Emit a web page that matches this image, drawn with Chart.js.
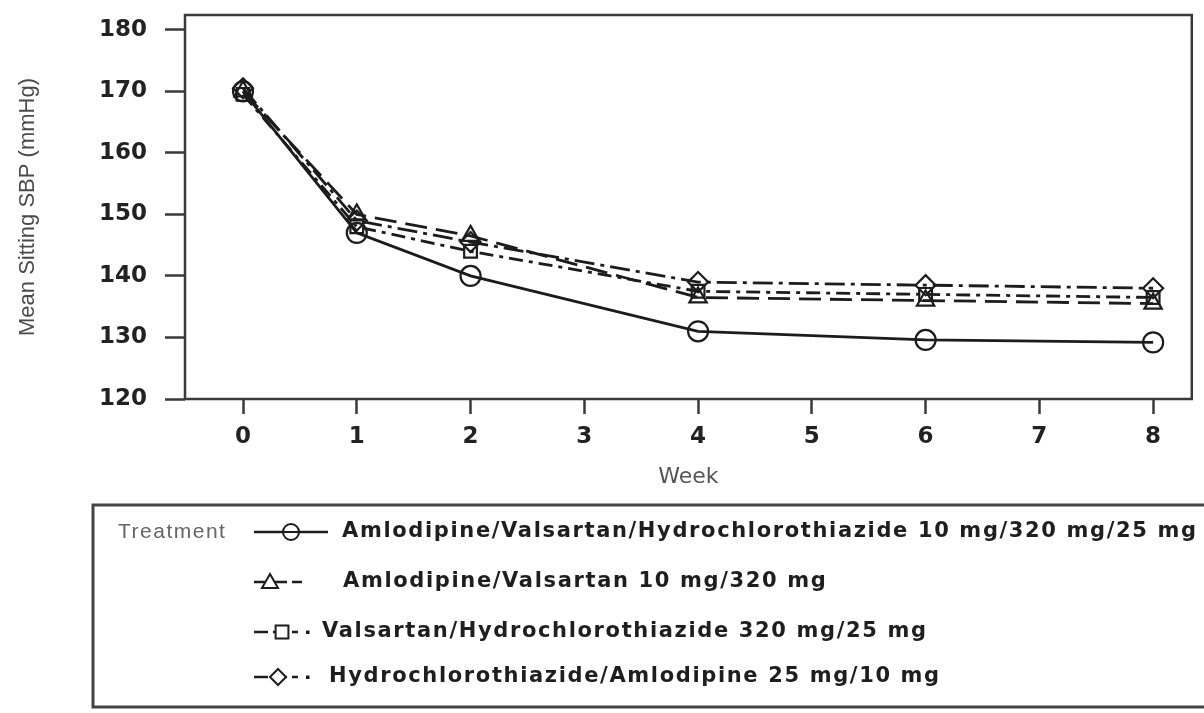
<!DOCTYPE html>
<html>
<head>
<meta charset="utf-8">
<script src="https://cdn.jsdelivr.net/npm/chart.js@4.4.0/dist/chart.umd.min.js"></script>
<style>
  html, body { margin: 0; padding: 0; background: #fff; }
  #wrap { width: 1204px; height: 713px; position: relative; }
</style>
</head>
<body>
<div id="wrap"><canvas id="chart"></canvas></div>
<script>
// ---- data ----
const weeks = [0, 1, 2, 4, 6, 8];
const xTicks = [0, 1, 2, 3, 4, 5, 6, 7, 8];
const yTicks = [120, 130, 140, 150, 160, 170, 180];

const seriesNames = [
    'Amlodipine/Valsartan/Hydrochlorothiazide 10 mg/320 mg/25 mg',
    'Amlodipine/Valsartan 10 mg/320 mg',
    'Valsartan/Hydrochlorothiazide 320 mg/25 mg',
    'Hydrochlorothiazide/Amlodipine 25 mg/10 mg'
];
const avhValues = [170, 147, 140, 131, 129.6, 129.2];
const avValues = [170, 150, 146.5, 136.5, 136, 135.5];
const vhValues = [169.5, 148, 144, 137.5, 137, 136.5];
const haValues = [170.5, 149, 145.5, 139, 138.5, 138];

const legendTitle = 'Treatment';
const xTitle = 'Week';
const yTitle = 'Mean Sitting SBP (mmHg)';

// ---- styles ----
const INK = '#1c1c1c';
const AXIS = '#3a3a3a';

function toPoints(values) {
    return weeks.map((w, i) => ({ x: w, y: values[i] }));
}

function makeDataset(label, values, pointStyle, dash, radius) {
    return {
        label: label,
        data: toPoints(values),
        borderColor: INK,
        borderWidth: 2.8,
        borderDash: dash,
        backgroundColor: 'rgba(255,255,255,0)',
        pointStyle: pointStyle,
        pointRadius: radius,
        pointBorderWidth: 2.2,
        pointBorderColor: INK,
        pointBackgroundColor: 'rgba(255,255,255,0)',
        tension: 0,
        fill: false
    };
}

// ============================================
// PLUGIN: box around plot + boxed legend
// ============================================

function drawMarker(ctx, style, x, y, r) {
    ctx.beginPath();
    if (style === 'circle') {
        ctx.arc(x, y, r, 0, Math.PI * 2);
        ctx.moveTo(x - r, y);
        ctx.lineTo(x + r, y);
    } else if (style === 'triangle') {
        ctx.moveTo(x, y - r);
        ctx.lineTo(x + r, y + r * 0.75);
        ctx.lineTo(x - r, y + r * 0.75);
        ctx.closePath();
    } else if (style === 'rect') {
        ctx.rect(x - r * 0.8, y - r * 0.8, r * 1.6, r * 1.6);
    } else if (style === 'rectRot') {
        ctx.moveTo(x, y - r);
        ctx.lineTo(x + r, y);
        ctx.lineTo(x, y + r);
        ctx.lineTo(x - r, y);
        ctx.closePath();
    }
    ctx.fillStyle = '#fff';
    ctx.fill();
    ctx.stroke();
}

const frameAndLegend = {
    id: 'frameAndLegend',
    afterDraw(chart) {
        const ctx = chart.ctx;
        const a = chart.chartArea;

        // plot frame
        ctx.save();
        ctx.strokeStyle = AXIS;
        ctx.lineWidth = 2.5;
        ctx.strokeRect(a.left, a.top, a.right - a.left, a.bottom - a.top);
        ctx.restore();

        // legend box (runs off the right edge like the original)
        ctx.save();
        ctx.strokeStyle = '#444';
        ctx.lineWidth = 3;
        ctx.strokeRect(93, 505, 1140, 202);

        ctx.fillStyle = '#666';
        ctx.font = '21px "Liberation Sans", Arial, sans-serif';
        ctx.textBaseline = 'middle';
        ctx.letterSpacing = '1.5px';
        ctx.fillText(legendTitle, 118, 532);

        const rows = [
            { y: 532, x0: 254, x1: 328, mx: 291, textX: 342, dot: false },
            { y: 582, x0: 254, x1: 302, mx: 270, textX: 343, dot: false },
            { y: 632, x0: 254, x1: 298, mx: 282, textX: 322, dot: true },
            { y: 677, x0: 254, x1: 298, mx: 278, textX: 329, dot: true }
        ];

        ctx.letterSpacing = '0px';
        ctx.font = 'bold 21px "DejaVu Sans", Verdana, sans-serif';
        const w0 = ctx.measureText(seriesNames[0]).width;
        const spacing = Math.max(0, (854 - w0) / (seriesNames[0].length - 1));

        chart.data.datasets.forEach((ds, i) => {
            const r = rows[i];
            ctx.strokeStyle = INK;
            ctx.lineWidth = 2.6;
            ctx.setLineDash(ds.borderDash.length ? [14, 5] : []);
            ctx.beginPath();
            ctx.moveTo(r.x0, r.y);
            ctx.lineTo(r.x1, r.y);
            ctx.stroke();
            ctx.setLineDash([]);
            ctx.lineWidth = 2;
            drawMarker(ctx, ds.pointStyle, r.mx, r.y, 8);
            if (r.dot) {
                ctx.fillStyle = INK;
                ctx.fillRect(r.x1 + 8, r.y - 1.5, 3.5, 3.5);
            }
            ctx.fillStyle = '#1e1e1e';
            ctx.letterSpacing = spacing.toFixed(2) + 'px';
            ctx.fillText(ds.label, r.textX, r.y);
            ctx.letterSpacing = '0px';
        });
        ctx.restore();
    }
};

// ============================================
// CHART
// ============================================

const tickFont = { family: '"DejaVu Sans", Verdana, sans-serif', size: 23, weight: 'bold' };

new Chart(document.getElementById('chart'), {
    type: 'line',
    data: {
        datasets: [
            makeDataset(seriesNames[0], avhValues, 'circle', [], 10),
            makeDataset(seriesNames[1], avValues, 'triangle', [22, 9], 10),
            makeDataset(seriesNames[2], vhValues, 'rect', [14, 6, 4, 6], 9),
            makeDataset(seriesNames[3], haValues, 'rectRot', [20, 6, 4, 6], 10)
        ]
    },
    options: {
        responsive: true,
        maintainAspectRatio: false,
        animation: false,
        layout: { padding: { top: 15, right: 0, bottom: 214, left: 0 } },
        plugins: {
            legend: { display: false },
            tooltip: { enabled: false }
        },
        scales: {
            x: {
                type: 'linear',
                min: -0.51,
                max: 8.34,
                afterBuildTicks: scale => { scale.ticks = xTicks.map(v => ({ value: v })); },
                afterFit: scale => {
                    scale.height = 100;
                    scale.paddingLeft = 0;
                    scale.paddingRight = 0;
                },
                border: { display: false },
                grid: {
                    drawOnChartArea: false,
                    drawTicks: true,
                    tickLength: 15,
                    tickWidth: 2.5,
                    tickColor: AXIS
                },
                ticks: {
                    font: tickFont,
                    color: '#222',
                    padding: 9,
                    maxRotation: 0
                },
                title: {
                    display: true,
                    text: xTitle,
                    color: '#555',
                    font: { family: '"DejaVu Sans", sans-serif', size: 22 },
                    padding: { top: 0, bottom: 9 }
                }
            },
            y: {
                type: 'linear',
                min: 120,
                max: 182.4,
                afterBuildTicks: scale => { scale.ticks = yTicks.map(v => ({ value: v })); },
                afterFit: scale => {
                    scale.width = 185;
                    scale.paddingTop = 0;
                    scale.paddingBottom = 0;
                },
                border: { display: false },
                grid: {
                    drawOnChartArea: false,
                    drawTicks: true,
                    tickLength: 20,
                    tickWidth: 2.5,
                    tickColor: AXIS
                },
                ticks: {
                    font: tickFont,
                    color: '#222',
                    padding: 18
                },
                title: {
                    display: true,
                    text: yTitle,
                    color: '#4a4a4a',
                    font: { family: '"Liberation Sans", Arial, sans-serif', size: 22 },
                    padding: { top: 15, bottom: 0 }
                }
            }
        }
    },
    plugins: [frameAndLegend]
});
</script>
</body>
</html>
